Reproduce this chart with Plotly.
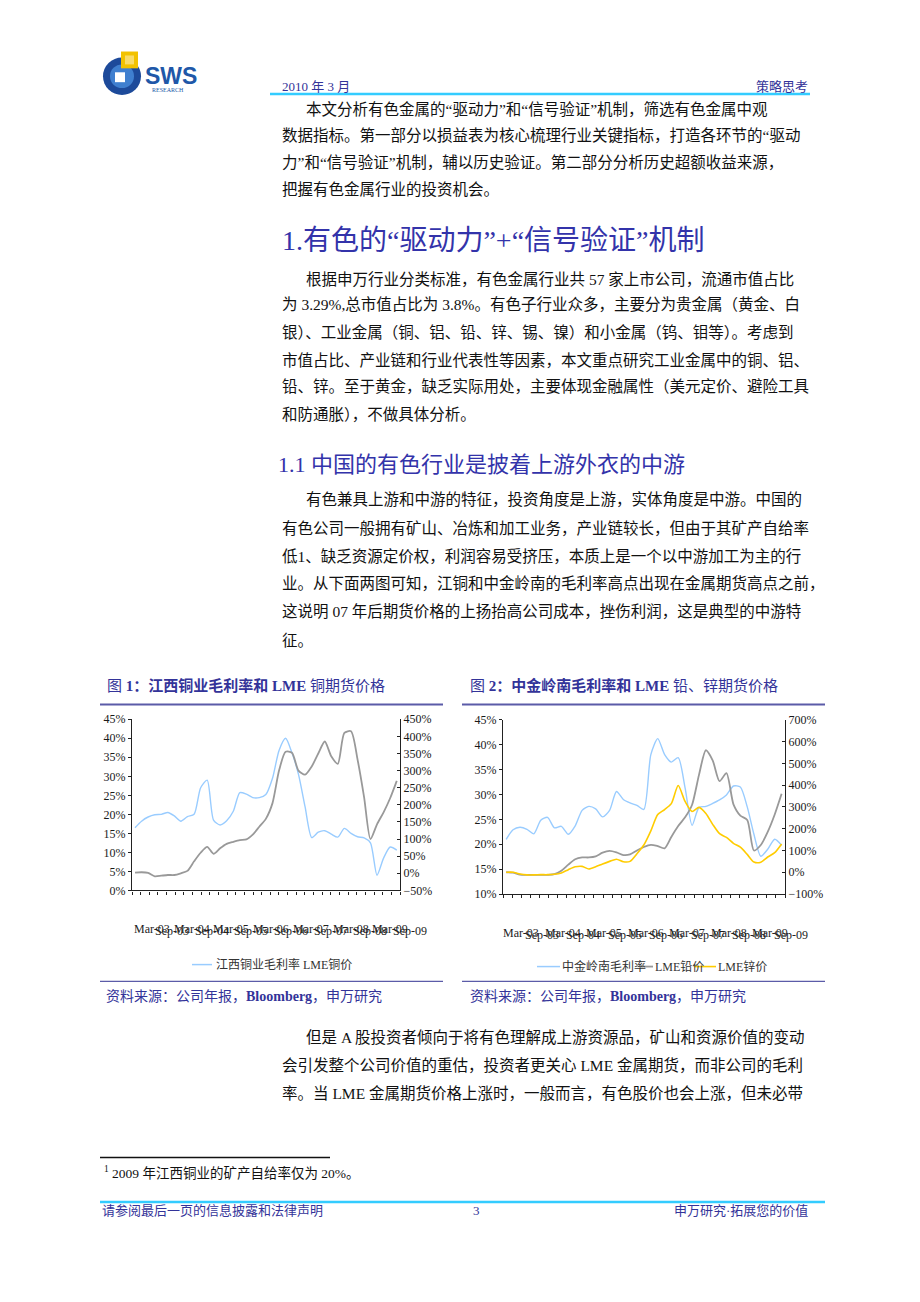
import pandas as pd
import plotly.graph_objects as go

W, H = 920, 1302

# bi-monthly observation dates (Mar-03 .. Nov-09)
dates = pd.date_range("2003-03-01", periods=41, freq="2MS")

# chart 1: Jiangxi Copper gross margin (left axis, %) and LME copper (right axis, % change)
jx_margin = [16.5, 18.2, 19.3, 19.9, 20.0, 20.5, 19.6, 18.2, 19.4, 20.0,
             27.0, 29.0, 18.5, 17.2, 18.3, 20.8, 25.7, 25.3, 24.4, 24.4,
             25.2, 29.5, 36.8, 40.0, 36.2, 30.5, 22.0, 13.9, 15.3, 15.7,
             14.8, 14.0, 16.3, 15.0, 14.1, 13.8, 12.5, 4.0, 8.5, 11.4, 10.6]
lme_copper = [2, 3, 1, -9, -7, -5, -5, 0, 7, 35,
              60, 77, 57, 73, 86, 92, 97, 99, 113, 136,
              159, 205, 300, 355, 352, 300, 288, 312, 350, 385,
              342, 320, 410, 415, 332, 222, 100, 143, 178, 220, 270]

# chart 2: Zhongjin Lingnan gross margin (left) and LME lead / zinc (right)
zj_margin = [21.0, 22.9, 23.4, 23.0, 22.1, 24.8, 25.4, 23.3, 23.6, 22.0,
             23.7, 26.8, 27.6, 27.1, 25.5, 26.8, 30.6, 29.0, 28.3, 27.8,
             27.0, 38.0, 41.2, 38.0, 36.5, 37.4, 31.3, 23.8, 27.4, 27.6,
             28.2, 28.9, 29.9, 31.7, 31.5, 27.5, 22.0, 17.6, 19.0, 21.0, 19.8]
lme_lead = [0, -2, -11, -12, -12, -12, -12, -9, 7, 35,
            60, 68, 68, 73, 90, 98, 91, 79, 82, 100,
            116, 126, 120, 110, 162, 212, 252, 310, 447, 560,
            514, 418, 455, 312, 260, 240, 100, 125, 185, 265, 360]
lme_zinc = [0, 0, -8, -12, -12, -11, -11, -9, -3, 12,
            25, 27, 15, 25, 38, 50, 60, 48, 50, 85,
            125, 190, 265, 288, 315, 398, 325, 279, 298, 270,
            220, 177, 160, 133, 115, 82, 47, 46, 70, 90, 130]

tick_labels = ["Mar-03", "Sep-03", "Mar-04", "Sep-04", "Mar-05", "Sep-05", "Mar-06",
               "Sep-06", "Mar-07", "Sep-07", "Mar-08", "Sep-08", "Mar-09", "Sep-09"]

FONT = "Liberation Serif, Noto Sans CJK SC"
NAVY = "#333399"
BLUE_L = "#99ccff"
GREY = "#999999"
YELLOW = "#ffcc00"


def px(x):
    return x / W


def py(y):
    return 1 - y / H


annotations = []
shapes = []


def text(x, y, s, size=15.5, color="#111111", anchor="left"):
    annotations.append(dict(x=px(x), y=py(y), xref="paper", yref="paper", text=s,
                            showarrow=False, xanchor=anchor, yanchor="middle",
                            font=dict(family=FONT, size=size, color=color)))


def hline(x0, x1, y, color, width):
    shapes.append(dict(type="line", xref="paper", yref="paper", x0=px(x0), x1=px(x1),
                       y0=py(y), y1=py(y), line=dict(color=color, width=width)))


fig = go.Figure()

fig.add_trace(go.Scatter(x=dates, y=jx_margin, xaxis="x", yaxis="y", mode="lines",
                         line=dict(color=BLUE_L, width=1.4, shape="spline", smoothing=0.7),
                         name="江西铜业毛利率", showlegend=False))
fig.add_trace(go.Scatter(x=dates, y=lme_copper, xaxis="x", yaxis="y2", mode="lines",
                         line=dict(color=GREY, width=1.8, shape="spline", smoothing=0.7),
                         name="LME铜价", showlegend=False))
fig.add_trace(go.Scatter(x=dates, y=zj_margin, xaxis="x2", yaxis="y3", mode="lines",
                         line=dict(color=BLUE_L, width=1.4, shape="spline", smoothing=0.7),
                         name="中金岭南毛利率", showlegend=False))
fig.add_trace(go.Scatter(x=dates, y=lme_lead, xaxis="x2", yaxis="y4", mode="lines",
                         line=dict(color=GREY, width=1.8, shape="spline", smoothing=0.7),
                         name="LME铅价", showlegend=False))
fig.add_trace(go.Scatter(x=dates, y=lme_zinc, xaxis="x2", yaxis="y4", mode="lines",
                         line=dict(color=YELLOW, width=1.6, shape="spline", smoothing=0.7),
                         name="LME锌价", showlegend=False))

ax = dict(showgrid=False, zeroline=False, showline=True, linecolor="#222222", linewidth=1.3,
          ticklen=3, tickcolor="#222222",
          tickfont=dict(family="Liberation Serif", size=12, color="#1a1a1a"))
x_ticks = pd.date_range("2003-02-01", "2009-12-01", periods=32)
x_range = ["2003-02-01", "2009-12-01"]

fig.update_layout(
    width=W, height=H,
    margin=dict(l=0, r=0, t=0, b=0),
    paper_bgcolor="white", plot_bgcolor="white",
    showlegend=False,
    xaxis=dict(domain=[px(132), px(400)], anchor="y", range=x_range, tickvals=x_ticks,
               showticklabels=False, ticks="outside", **ax),
    yaxis=dict(domain=[py(893), py(720)], anchor="x", range=[0, 45], dtick=5,
               ticksuffix="%", ticks="outside", **ax),
    yaxis2=dict(overlaying="y", side="right", anchor="x", range=[-50, 450], dtick=50,
                ticksuffix="%", ticks="inside", **ax),
    xaxis2=dict(domain=[px(503), px(785)], anchor="y3", range=x_range, tickvals=x_ticks,
                showticklabels=False, ticks="outside", **ax),
    yaxis3=dict(domain=[py(896.7), py(720.5)], anchor="x2", range=[10, 45], dtick=5,
                ticksuffix="%", ticks="outside", **ax),
    yaxis4=dict(overlaying="y3", side="right", anchor="x2", range=[-100, 700], dtick=100,
                ticksuffix="%", ticks="inside", **ax),
)

# ---- logo ----
shapes.append(dict(type="circle", xref="paper", yref="paper", x0=px(103), x1=px(141),
                   y0=py(89), y1=py(51), fillcolor="#1d4a9a", line=dict(width=0)))
shapes.append(dict(type="circle", xref="paper", yref="paper", x0=px(110), x1=px(134),
                   y0=py(82), y1=py(58), fillcolor="#3f7fcf", line=dict(width=0)))
shapes.append(dict(type="rect", xref="paper", yref="paper", x0=px(115), x1=px(125),
                   y0=py(76), y1=py(66), fillcolor="white", line=dict(width=0)))
shapes.append(dict(type="rect", xref="paper", yref="paper", x0=px(121), x1=px(138),
                   y0=py(62), y1=py(45), fillcolor="#f2c200", line=dict(width=0)))
shapes.append(dict(type="rect", xref="paper", yref="paper", x0=px(125), x1=px(134),
                   y0=py(58), y1=py(49), fillcolor="#f9dc6a", line=dict(width=0)))
annotations.append(dict(x=px(143), y=py(70), xref="paper", yref="paper", text="<b>SWS</b>",
                        showarrow=False, xanchor="left", yanchor="middle",
                        font=dict(family="Liberation Sans", size=23, color="#2057a8")))
text(150, 84, "RESEARCH", size=6, color="#2057a8")

# ---- header ----
text(280, 80, "2010 年 3 月", size=13, color=NAVY)
text(810, 80, "策略思考", size=13, color=NAVY, anchor="right")
hline(270, 810, 88, "#33ccff", 2.5)

# ---- body text ----
p1 = ["本文分析有色金属的“驱动力”和“信号验证”机制，筛选有色金属中观",
      "数据指标。第一部分以损益表为核心梳理行业关键指标，打造各环节的“驱动",
      "力”和“信号验证”机制，辅以历史验证。第二部分分析历史超额收益来源，",
      "把握有色金属行业的投资机会。"]
p1_y = [104, 130, 157, 184]
for i, (s, y) in enumerate(zip(p1, p1_y)):
    text(304 if i == 0 else 280, y, s)

text(280, 236, "1.有色的“驱动力”+“信号验证”机制", size=28, color="#3333aa")

p2 = ["根据申万行业分类标准，有色金属行业共 57 家上市公司，流通市值占比",
      "为 3.29%,总市值占比为 3.8%。有色子行业众多，主要分为贵金属（黄金、白",
      "银）、工业金属（铜、铝、铅、锌、锡、镍）和小金属（钨、钼等）。考虑到",
      "市值占比、产业链和行业代表性等因素，本文重点研究工业金属中的铜、铝、",
      "铅、锌。至于黄金，缺乏实际用处，主要体现金融属性（美元定价、避险工具",
      "和防通胀），不做具体分析。"]
p2_y = [275, 301, 329, 357, 384, 412]
for i, (s, y) in enumerate(zip(p2, p2_y)):
    text(304 if i == 0 else 280, y, s)

text(276, 462, "1.1 中国的有色行业是披着上游外衣的中游", size=22, color="#3333aa")

p3 = ["有色兼具上游和中游的特征，投资角度是上游，实体角度是中游。中国的",
      "有色公司一般拥有矿山、冶炼和加工业务，产业链较长，但由于其矿产自给率",
      "低1、缺乏资源定价权，利润容易受挤压，本质上是一个以中游加工为主的行",
      "业。从下面两图可知，江铜和中金岭南的毛利率高点出现在金属期货高点之前，",
      "这说明 07 年后期货价格的上扬抬高公司成本，挫伤利润，这是典型的中游特",
      "征。"]
p3_y = [498, 527, 555, 583, 611, 640]
for i, (s, y) in enumerate(zip(p3, p3_y)):
    text(304 if i == 0 else 280, y, s)

p4 = ["但是 A 股投资者倾向于将有色理解成上游资源品，矿山和资源价值的变动",
      "会引发整个公司价值的重估，投资者更关心 LME 金属期货，而非公司的毛利",
      "率。当 LME 金属期货价格上涨时，一般而言，有色股价也会上涨，但未必带"]
p4_y = [1042, 1070, 1098]
for i, (s, y) in enumerate(zip(p4, p4_y)):
    text(304 if i == 0 else 280, y, s)

# ---- chart frames ----
text(105, 686, "图 <b>1：江西铜业毛利率和 LME</b> 铜期货价格", size=15, color=NAVY)
text(468, 686, "图 <b>2：中金岭南毛利率和 LME</b> 铅、锌期货价格", size=15, color=NAVY)
hline(100, 443, 705, "#5b5ba8", 2)
hline(462, 825, 705, "#5b5ba8", 2)
hline(100, 443, 985, "#5b5ba8", 1.3)
hline(462, 825, 985, "#5b5ba8", 1.3)
text(104, 1000, "资料来源：公司年报，<b>Bloomberg</b>，申万研究", size=14, color=NAVY)
text(468, 1000, "资料来源：公司年报，<b>Bloomberg</b>，申万研究", size=14, color=NAVY)

# overlapping category labels (as rendered in the original)
for i, lab in enumerate(tick_labels):
    text(152 + i * 19.85, 932 + (2 if i % 2 else 0), lab, size=12, color="#222222", anchor="center")
    text(521 + i * 20.77, 936 + (2 if i % 2 else 0), lab, size=12, color="#222222", anchor="center")

# legends
hline(192, 212, 968, BLUE_L, 1.5)
text(214, 968, "江西铜业毛利率 LME铜价", size=12, color="#333333")
hline(537, 560, 970, BLUE_L, 1.5)
text(560, 970, "中金岭南毛利率", size=12, color="#333333")
hline(640, 653, 970, GREY, 1.8)
text(653, 970, "LME铅价", size=12, color="#333333")
hline(694, 716, 970, YELLOW, 1.6)
text(716, 970, "LME锌价", size=12, color="#333333")

# ---- footnote / footer ----
hline(100, 330, 1163, "#111111", 1.5)
text(102, 1178, "<sup>1</sup> 2009 年江西铜业的矿产自给率仅为 20%。", size=13.5)
hline(100, 825, 1208, "#33ccff", 2.5)
text(100, 1217, "请参阅最后一页的信息披露和法律声明", size=13, color=NAVY)
text(476, 1217, "3", size=13, color=NAVY, anchor="center")
text(810, 1217, "申万研究·拓展您的价值", size=13, color=NAVY, anchor="right")

fig.update_layout(annotations=annotations, shapes=shapes)

fig.write_html("out.html", config={"displayModeBar": False},
               post_script="document.body.style.margin='0px';")
